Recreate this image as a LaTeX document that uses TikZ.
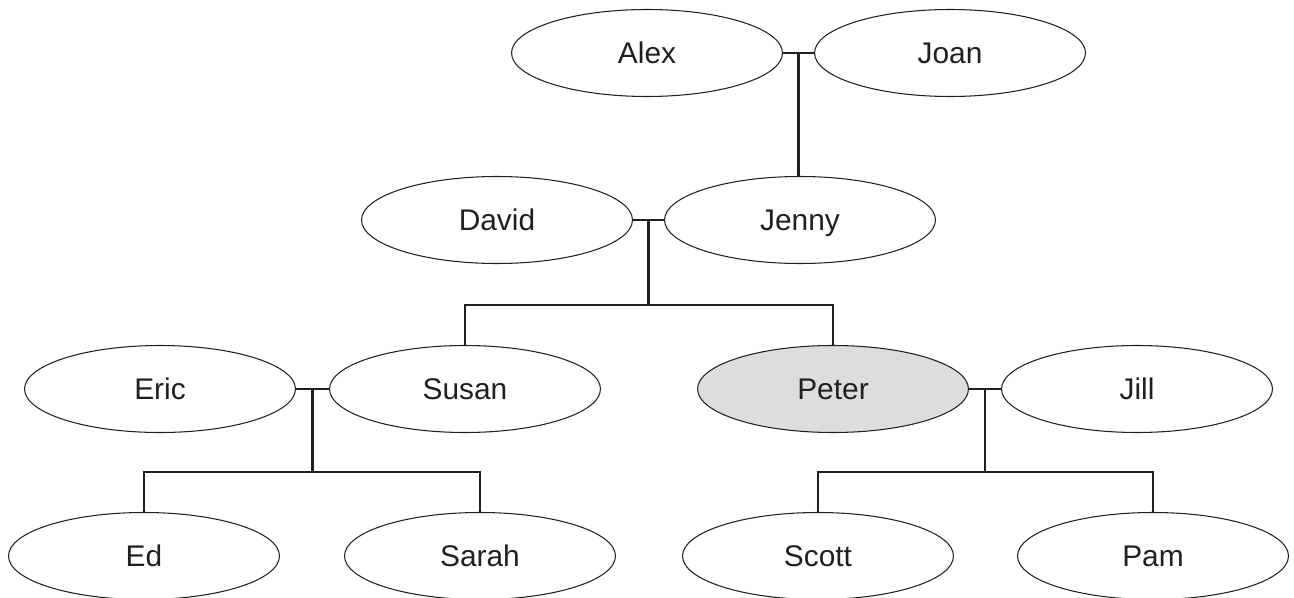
\documentclass[tikz,border=0pt]{standalone}
\usepackage{fontspec}
\setmainfont{Liberation Sans}
\usepackage{tikz}
\usetikzlibrary{shapes,positioning,calc}
\definecolor{linegray}{RGB}{35,31,32}
\definecolor{peterfill}{RGB}{220,221,223}

\begin{document}
\begin{tikzpicture}[x=0.02cm, y=-0.02cm,
    person/.style={ellipse, draw=linegray, line width=0.6pt, fill=white,
        minimum width=5.42cm, minimum height=1.74cm, inner sep=0pt,
        text height=12pt, text depth=0pt, text=linegray,
        font=\fontsize{17}{20}\selectfont},
    focus/.style={person, fill=peterfill},
    link/.style={draw=linegray, line width=1.2pt}]
    \useasboundingbox (0,0) rectangle (1294,598);

    % grandparents
    \node[person] (alex) at (647,53) {Alex};
    \node[person] (joan) at (950,53) {Joan};

    % parents
    \node[person] (david) at (497,220) {David};
    \node[person] (jenny) at (800,220) {Jenny};

    % children and their partners
    \node[person] (eric)  at (160,389) {Eric};
    \node[person] (susan) at (465,389) {Susan};
    \node[focus]  (peter) at (833,389) {Peter};
    \node[person] (jill)  at (1137,389) {Jill};

    % grandchildren
    \node[person] (ed)    at (144,556) {Ed};
    \node[person] (sarah) at (480,556) {Sarah};
    \node[person] (scott) at (818,556) {Scott};
    \node[person] (pam)   at (1153,556) {Pam};

    % couples
    \draw[link] (alex.east) -- (joan.west);
    \draw[link] (david.east) -- (jenny.west);
    \draw[link] (eric.east) -- (susan.west);
    \draw[link] (peter.east) -- (jill.west);
    \coordinate (aj) at ($(alex.east)!0.5!(joan.west)$);
    \coordinate (dj) at ($(david.east)!0.5!(jenny.west)$);
    \coordinate (es) at ($(eric.east)!0.5!(susan.west)$);
    \coordinate (pj) at ($(peter.east)!0.5!(jill.west)$);

    % levels of the sibling bars
    \coordinate (bar1) at (0,305);
    \coordinate (bar2) at (0,472);

    % descent
    \draw[link] (aj) -- (aj |- jenny.north);
    \draw[link] (dj) -- (dj |- bar1);
    \draw[link] (susan.north) |- (dj |- bar1) -| (peter.north);
    \draw[link] (es) -- (es |- bar2);
    \draw[link] (ed.north) |- (es |- bar2) -| (sarah.north);
    \draw[link] (pj) -- (pj |- bar2);
    \draw[link] (scott.north) |- (pj |- bar2) -| (pam.north);
\end{tikzpicture}
\end{document}
